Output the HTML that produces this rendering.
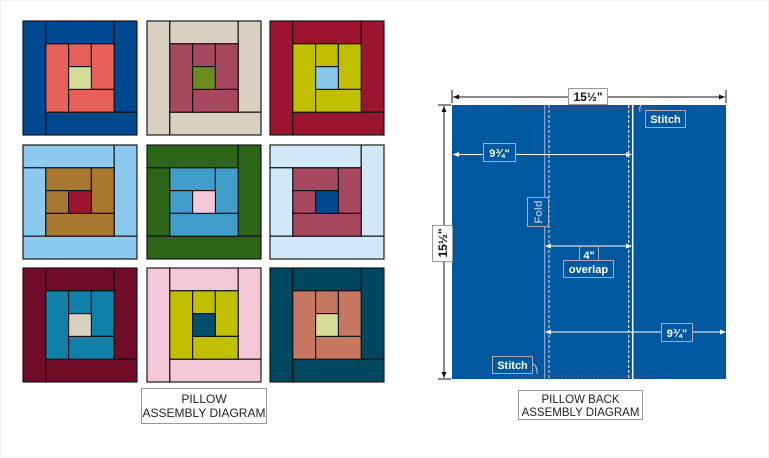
<!DOCTYPE html>
<html><head><meta charset="utf-8"><style>
html,body{margin:0;padding:0;background:#fff;}
svg{display:block;}
text{font-family:"Liberation Sans",sans-serif;}
.s rect{stroke:#111;stroke-width:0.05;}
</style></head><body>
<svg width="769" height="458" viewBox="0 0 769 458" xmlns="http://www.w3.org/2000/svg">
<rect x="0.5" y="0.5" width="768" height="457" fill="#fff" stroke="#f0f0f0"/>
<!-- Pattern A blocks -->
<g class="s" transform="translate(23,21) scale(22.8)">
<g fill="#004890"><rect x="0" y="0" width="1" height="5"/><rect x="1" y="0" width="3" height="1"/><rect x="4" y="0" width="1" height="4"/><rect x="1" y="4" width="4" height="1"/></g>
<g fill="#e8605a"><rect x="1" y="1" width="1" height="3"/><rect x="2" y="1" width="1" height="1"/><rect x="3" y="1" width="1" height="2"/><rect x="2" y="3" width="2" height="1"/></g>
<rect x="2" y="2" width="1" height="1" fill="#d4dc98"/></g>
<g class="s" transform="translate(147,21) scale(22.8)">
<g fill="#d8d0c0"><rect x="0" y="0" width="1" height="5"/><rect x="1" y="0" width="3" height="1"/><rect x="4" y="0" width="1" height="4"/><rect x="1" y="4" width="4" height="1"/></g>
<g fill="#a84860"><rect x="1" y="1" width="1" height="3"/><rect x="2" y="1" width="1" height="1"/><rect x="3" y="1" width="1" height="2"/><rect x="2" y="3" width="2" height="1"/></g>
<rect x="2" y="2" width="1" height="1" fill="#6c8c20"/></g>
<g class="s" transform="translate(270,21) scale(22.8)">
<g fill="#9c1430"><rect x="0" y="0" width="1" height="5"/><rect x="1" y="0" width="3" height="1"/><rect x="4" y="0" width="1" height="4"/><rect x="1" y="4" width="4" height="1"/></g>
<g fill="#c0c000"><rect x="1" y="1" width="1" height="3"/><rect x="2" y="1" width="1" height="1"/><rect x="3" y="1" width="1" height="2"/><rect x="2" y="3" width="2" height="1"/></g>
<rect x="2" y="2" width="1" height="1" fill="#88c8ec"/></g>
<!-- Pattern B row 2 -->
<g class="s" transform="translate(23,145) scale(22.8)">
<g fill="#8ccaf0"><rect x="0" y="0" width="4" height="1"/><rect x="4" y="0" width="1" height="4"/><rect x="0" y="1" width="1" height="3"/><rect x="0" y="4" width="5" height="1"/></g>
<g fill="#a87830"><rect x="1" y="1" width="2" height="1"/><rect x="3" y="1" width="1" height="2"/><rect x="1" y="2" width="1" height="1"/><rect x="1" y="3" width="3" height="1"/></g>
<rect x="2" y="2" width="1" height="1" fill="#9c1430"/></g>
<g class="s" transform="translate(147,145) scale(22.8)">
<g fill="#2c6418"><rect x="0" y="0" width="4" height="1"/><rect x="4" y="0" width="1" height="4"/><rect x="0" y="1" width="1" height="3"/><rect x="0" y="4" width="5" height="1"/></g>
<g fill="#409cc8"><rect x="1" y="1" width="2" height="1"/><rect x="3" y="1" width="1" height="2"/><rect x="1" y="2" width="1" height="1"/><rect x="1" y="3" width="3" height="1"/></g>
<rect x="2" y="2" width="1" height="1" fill="#f4c8d8"/></g>
<g class="s" transform="translate(270,145) scale(22.8)">
<g fill="#d0e8f8"><rect x="0" y="0" width="4" height="1"/><rect x="4" y="0" width="1" height="4"/><rect x="0" y="1" width="1" height="3"/><rect x="0" y="4" width="5" height="1"/></g>
<g fill="#a84860"><rect x="1" y="1" width="2" height="1"/><rect x="3" y="1" width="1" height="2"/><rect x="1" y="2" width="1" height="1"/><rect x="1" y="3" width="3" height="1"/></g>
<rect x="2" y="2" width="1" height="1" fill="#004890"/></g>
<!-- row 3 pattern A -->
<g class="s" transform="translate(23,268) scale(22.8)">
<g fill="#700c28"><rect x="0" y="0" width="1" height="5"/><rect x="1" y="0" width="3" height="1"/><rect x="4" y="0" width="1" height="4"/><rect x="1" y="4" width="4" height="1"/></g>
<g fill="#1080a8"><rect x="1" y="1" width="1" height="3"/><rect x="2" y="1" width="1" height="1"/><rect x="3" y="1" width="1" height="2"/><rect x="2" y="3" width="2" height="1"/></g>
<rect x="2" y="2" width="1" height="1" fill="#d8d0c0"/></g>
<g class="s" transform="translate(147,268) scale(22.8)">
<g fill="#f4c8d8"><rect x="0" y="0" width="1" height="5"/><rect x="1" y="0" width="3" height="1"/><rect x="4" y="0" width="1" height="4"/><rect x="1" y="4" width="4" height="1"/></g>
<g fill="#c0c000"><rect x="1" y="1" width="1" height="3"/><rect x="2" y="1" width="1" height="1"/><rect x="3" y="1" width="1" height="2"/><rect x="2" y="3" width="2" height="1"/></g>
<rect x="2" y="2" width="1" height="1" fill="#00506c"/></g>
<g class="s" transform="translate(270,268) scale(22.8)">
<g fill="#004860"><rect x="0" y="0" width="1" height="5"/><rect x="1" y="0" width="3" height="1"/><rect x="4" y="0" width="1" height="4"/><rect x="1" y="4" width="4" height="1"/></g>
<g fill="#c87860"><rect x="1" y="1" width="1" height="3"/><rect x="2" y="1" width="1" height="1"/><rect x="3" y="1" width="1" height="2"/><rect x="2" y="3" width="2" height="1"/></g>
<rect x="2" y="2" width="1" height="1" fill="#d4dc98"/></g>

<rect x="141.5" y="388.5" width="125" height="35" fill="#fff" stroke="#999"/>
<text x="204" y="403" font-size="12" text-anchor="middle" fill="#222">PILLOW</text>
<text x="204" y="417" font-size="12" text-anchor="middle" fill="#222">ASSEMBLY DIAGRAM</text>

<!-- pillow back -->
<rect x="452" y="105" width="274" height="274" fill="#0058a0"/>
<line x1="544.7" y1="105" x2="544.7" y2="379" stroke="#9fb8d8" stroke-width="1"/>
<line x1="549" y1="105" x2="549" y2="379" stroke="#dfe8f4" stroke-width="1" stroke-dasharray="3,2"/>
<line x1="628.7" y1="105" x2="628.7" y2="379" stroke="#fff" stroke-width="1" stroke-dasharray="3,2"/>
<line x1="632.7" y1="105" x2="632.7" y2="379" stroke="#fff" stroke-width="1.5"/>
<line x1="517" y1="109" x2="660" y2="109" stroke="#c03050" stroke-width="1" stroke-dasharray="2,2"/>
<line x1="517" y1="376" x2="660" y2="376" stroke="#c03050" stroke-width="1" stroke-dasharray="2,2"/>
<!-- top dimension -->
<line x1="452" y1="90" x2="452" y2="103" stroke="#111"/>
<line x1="726" y1="90" x2="726" y2="103" stroke="#111"/>
<line x1="453" y1="97" x2="725" y2="97" stroke="#111"/>
<path d="M453 97 l6 -2.5 v5z M725 97 l-6 -2.5 v5z" fill="#111"/>
<rect x="568.5" y="88.5" width="39" height="16" fill="#fff" stroke="#999"/>
<text x="588" y="101" font-size="12" font-weight="bold" text-anchor="middle" fill="#111">15½"</text>
<!-- left dimension -->
<line x1="438" y1="105" x2="451" y2="105" stroke="#111"/>
<line x1="438" y1="379" x2="451" y2="379" stroke="#111"/>
<line x1="444" y1="106" x2="444" y2="378" stroke="#111"/>
<path d="M444 106 l-2.5 6 h5z M444 378 l-2.5 -6 h5z" fill="#111"/>
<rect x="432.5" y="225.5" width="20" height="36" fill="#fff" stroke="#999"/>
<text transform="translate(447,243) rotate(-90)" font-size="12" font-weight="bold" text-anchor="middle" fill="#111">15½"</text>
<!-- 9 3/4 top -->
<line x1="454" y1="154.5" x2="631" y2="154.5" stroke="#fff"/>
<path d="M453 154.5 l6 -2.5 v5z M632 154.5 l-6 -2.5 v5z" fill="#fff"/>
<rect x="483.5" y="143.5" width="32" height="18" fill="#0058a0" stroke="#aab"/>
<text x="499.5" y="157" font-size="11" font-weight="bold" text-anchor="middle" fill="#fff">9¾"</text>
<!-- stitch top -->
<path d="M640 112 q-1 -6 2 -8" fill="none" stroke="#ddd" stroke-width="0.8"/>
<rect x="645.5" y="110.5" width="40" height="17" fill="#0058a0" stroke="#aab"/>
<text x="665.5" y="123" font-size="11" font-weight="bold" text-anchor="middle" fill="#fff">Stitch</text>
<!-- fold -->
<rect x="527.5" y="197.5" width="21" height="29" fill="#0058a0" stroke="#aab"/>
<text transform="translate(542,212) rotate(-90)" font-size="11" font-weight="bold" text-anchor="middle" fill="#9fb8d8">Fold</text>
<!-- 4" -->
<line x1="546" y1="246" x2="631" y2="246" stroke="#fff"/>
<path d="M545 246 l6 -2.5 v5z M632 246 l-6 -2.5 v5z" fill="#fff"/>
<rect x="579.5" y="246.5" width="19" height="17" fill="#0058a0" stroke="#aab"/>
<text x="589" y="259" font-size="11" font-weight="bold" text-anchor="middle" fill="#fff">4"</text>
<rect x="563.5" y="260.5" width="50" height="17" fill="#0058a0" stroke="#aab"/>
<text x="588.5" y="273" font-size="11" font-weight="bold" text-anchor="middle" fill="#fff">overlap</text>
<!-- 9 3/4 bottom -->
<line x1="546" y1="332" x2="725" y2="332" stroke="#fff"/>
<path d="M545 332 l6 -2.5 v5z M726 332 l-6 -2.5 v5z" fill="#fff"/>
<rect x="661.5" y="323.5" width="31" height="18" fill="#0058a0" stroke="#aab"/>
<text x="677" y="337" font-size="11" font-weight="bold" text-anchor="middle" fill="#fff">9¾"</text>
<!-- stitch bottom -->
<path d="M533 364 q5 3 4 10" fill="none" stroke="#ddd" stroke-width="0.8"/>
<rect x="492.5" y="356.5" width="40" height="17" fill="#0058a0" stroke="#aab"/>
<text x="512.5" y="369" font-size="11" font-weight="bold" text-anchor="middle" fill="#fff">Stitch</text>
<!-- caption -->
<rect x="518.5" y="390.5" width="124" height="29" fill="#fff" stroke="#999"/>
<text x="580.5" y="403" font-size="11.5" text-anchor="middle" fill="#222">PILLOW BACK</text>
<text x="580.5" y="416" font-size="11.5" text-anchor="middle" fill="#222">ASSEMBLY DIAGRAM</text>
</svg>
</body></html>
